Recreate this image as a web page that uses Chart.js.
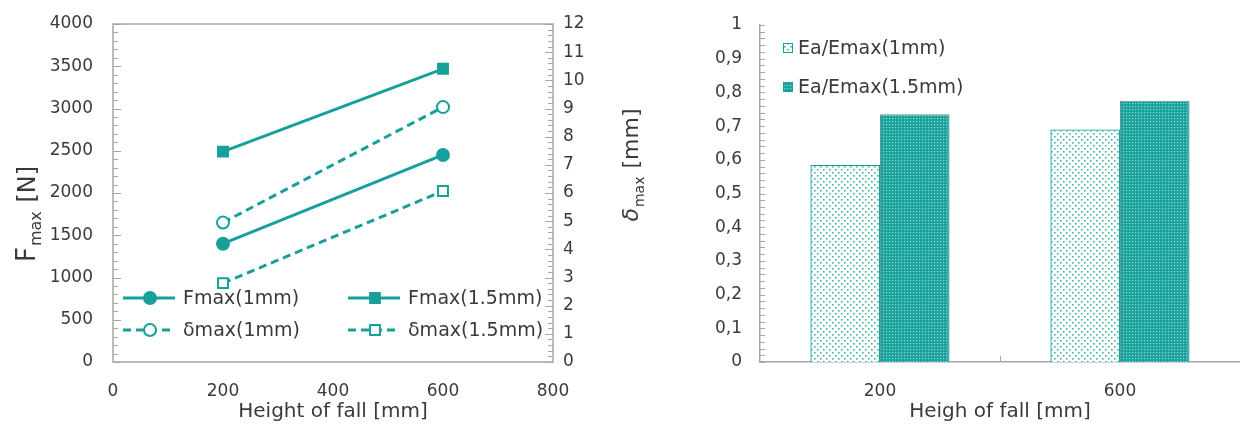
<!DOCTYPE html>
<html lang="en">
<head>
<meta charset="UTF-8">
<title>Fmax / delta max / Ea/Emax</title>
<script src="https://cdn.jsdelivr.net/npm/chart.js"></script>
<style>
    body { margin: 0; background: #fff; }
    #wrap { position: relative; width: 1240px; height: 428px; }
    #lineWrap { position: absolute; left: 0; top: 0; width: 660px; height: 428px; }
    #barWrap { position: absolute; left: 660px; top: 0; width: 580px; height: 428px; }
</style>
</head>
<body>
<div id="wrap">
    <div id="lineWrap"><canvas id="lineChart"></canvas></div>
    <div id="barWrap"><canvas id="barChart"></canvas></div>
</div>
<script>
    // data
    var heights = [200, 600];
    var fmax1 = [1400, 2450];
    var fmax15 = [2490, 3470];
    var dmax1 = [4.95, 9.05];
    var dmax15 = [2.8, 6.07];

    var barLabels = ['200', '600'];
    var ea1 = [0.585, 0.69];
    var ea15 = [0.735, 0.775];

    var TEAL = '#17a09a';
    var AXIS = '#a6a6a6';
    var FONT = 'DejaVu Sans';
    var TXT = '#3a3a3a';

    Chart.defaults.font.family = FONT;
    Chart.defaults.font.size = 17;
    Chart.defaults.color = TXT;
    Chart.defaults.animation = false;

    function pts(xs, ys) {
        return xs.map(function (x, i) { return { x: x, y: ys[i] }; });
    }

    // patterns for the bars
    function dotPattern(bg, dot, size, offs, d) {
        var c = document.createElement('canvas');
        c.width = size; c.height = size;
        var g = c.getContext('2d');
        g.fillStyle = bg;
        g.fillRect(0, 0, size, size);
        g.fillStyle = dot;
        offs.forEach(function (o) { g.fillRect(o[0], o[1], d, d); });
        return g.createPattern(c, 'repeat');
    }
    var lightPat = dotPattern('#ffffff', '#3db2ac', 6, [[1, 1], [4, 4]], 1.6);
    var darkPat = dotPattern('#1aa39d', '#8fd6d2', 3, [[1, 1]], 1.2);

    // fixed axis size, no extra padding from the tick labels
    function fixW(w) {
        return function (s) { s.width = w; s.paddingTop = 0; s.paddingBottom = 0; };
    }

    // inner tick marks, a box and the y titles, all from the chart's scales
    var decor = {
        id: 'decor',
        afterDraw: function (chart, args, o) {
            var ctx = chart.ctx, a = chart.chartArea;
            ctx.save();
            ctx.strokeStyle = AXIS;
            ctx.lineWidth = 1;
            (o.ticks || []).forEach(function (t) {
                var sc = chart.scales[t.axis];
                for (var v = sc.min; v <= sc.max + 1e-9; v += t.step) {
                    var vv = Math.round(v / t.step) * t.step;
                    var big = t.major && Math.abs(vv / t.major - Math.round(vv / t.major)) < 1e-6;
                    var len = big ? t.len + 3 : t.len;
                    var y = Math.round(sc.getPixelForValue(vv)) + 0.5;
                    ctx.beginPath();
                    if (t.side === 'left') { ctx.moveTo(a.left, y); ctx.lineTo(a.left + len, y); }
                    else { ctx.moveTo(a.right, y); ctx.lineTo(a.right - len, y); }
                    ctx.stroke();
                }
            });
            if (o.box) {
                ctx.lineWidth = 1.5;
                ctx.strokeRect(a.left, a.top, a.right - a.left, a.bottom - a.top);
            }
            (o.titles || []).forEach(function (t) {
                ctx.save();
                ctx.translate(t.x, t.y);
                ctx.rotate(-Math.PI / 2);
                ctx.fillStyle = TXT;
                ctx.textBaseline = 'alphabetic';
                var big = (t.italic ? 'italic ' : '') + t.size + 'px ' + FONT;
                var small = Math.round(t.size * 0.62) + 'px ' + FONT;
                var rest = t.restSize + 'px ' + FONT;
                ctx.font = big;
                var w1 = ctx.measureText(t.main).width;
                ctx.font = small;
                var w2 = ctx.measureText(t.sub).width;
                ctx.font = rest;
                var w3 = ctx.measureText(t.rest).width;
                var x = -(w1 + w2 + w3) / 2;
                ctx.font = big;
                ctx.fillText(t.main, x, 0);
                ctx.font = small;
                ctx.fillText(t.sub, x + w1 + 1, 6);
                ctx.font = rest;
                ctx.fillText(t.rest, x + w1 + w2 + 2, 0);
                ctx.restore();
            });
            if (o.midTick) {
                var xs = chart.scales.x;
                var mx = Math.round((xs.getPixelForValue(0) + xs.getPixelForValue(1)) / 2) + 0.5;
                ctx.beginPath();
                ctx.moveTo(mx, a.bottom);
                ctx.lineTo(mx, a.bottom - 6);
                ctx.stroke();
            }
            ctx.restore();
        }
    };

    // legend drawn inside the plot
    var innerLegend = {
        id: 'innerLegend',
        afterDraw: function (chart, args, o) {
            var ctx = chart.ctx;
            ctx.save();
            ctx.font = o.size + 'px ' + FONT;
            ctx.textBaseline = 'middle';
            chart.data.datasets.forEach(function (ds, i) {
                var p = o.pos[i];
                if (o.kind === 'line') {
                    ctx.strokeStyle = ds.borderColor;
                    ctx.lineWidth = ds.borderWidth;
                    ctx.setLineDash(ds.borderDash || []);
                    ctx.beginPath();
                    ctx.moveTo(p[0] - 27, p[1]);
                    ctx.lineTo(p[0] + 25, p[1]);
                    ctx.stroke();
                    ctx.setLineDash([]);
                    ctx.fillStyle = ds.pointBackgroundColor;
                    ctx.lineWidth = ds.pointBorderWidth;
                    ctx.beginPath();
                    if (ds.pointStyle === 'rect') {
                        var s = ds.pointRadius * 1.4;
                        ctx.rect(p[0] - s / 2, p[1] - s / 2, s, s);
                    } else {
                        ctx.arc(p[0], p[1], ds.pointRadius, 0, Math.PI * 2);
                    }
                    ctx.fill();
                    ctx.stroke();
                    ctx.fillStyle = TXT;
                    ctx.fillText(ds.label, p[0] + 33, p[1] + 1);
                } else {
                    ctx.fillStyle = ds.backgroundColor;
                    ctx.fillRect(p[0], p[1] - 5, 10, 10);
                    ctx.strokeStyle = TEAL;
                    ctx.lineWidth = 1;
                    ctx.strokeRect(p[0] + 0.5, p[1] - 4.5, 9, 9);
                    ctx.fillStyle = TXT;
                    ctx.fillText(ds.label, p[0] + 15, p[1] + 1);
                }
            });
            ctx.restore();
        }
    };

    function lineDs(label, data, axis, dashed, style) {
        return {
            label: label,
            data: data,
            yAxisID: axis,
            borderColor: TEAL,
            borderWidth: 3,
            borderDash: dashed ? [8, 5] : [],
            pointStyle: style,
            pointRadius: style === 'rect' ? 7 : 6,
            pointBorderWidth: 2,
            pointBorderColor: TEAL,
            pointBackgroundColor: dashed ? '#ffffff' : TEAL,
            fill: false
        };
    }

    function plain(v) { return String(v); }

    new Chart(document.getElementById('lineChart'), {
        type: 'line',
        data: {
            datasets: [
                lineDs('Fmax(1mm)', pts(heights, fmax1), 'y', false, 'circle'),
                lineDs('Fmax(1.5mm)', pts(heights, fmax15), 'y', false, 'rect'),
                lineDs('\u03b4max(1mm)', pts(heights, dmax1), 'y2', true, 'circle'),
                lineDs('\u03b4max(1.5mm)', pts(heights, dmax15), 'y2', true, 'rect')
            ]
        },
        options: {
            responsive: true,
            maintainAspectRatio: false,
            layout: { padding: { top: 24, left: 0, right: 0, bottom: 0 } },
            scales: {
                x: {
                    type: 'linear', min: 0, max: 800,
                    afterFit: function (s) { s.height = 66; },
                    grid: { display: false, drawTicks: false },
                    border: { display: false },
                    ticks: { stepSize: 200, padding: 19, callback: plain },
                    title: { display: true, text: 'Height of fall [mm]', font: { size: 20 }, padding: { top: 0 } }
                },
                y: {
                    position: 'left', min: 0, max: 4000,
                    afterFit: fixW(113),
                    grid: { display: false, drawTicks: false },
                    border: { display: false },
                    ticks: { stepSize: 500, padding: 20, callback: plain }
                },
                y2: {
                    position: 'right', min: 0, max: 12,
                    afterFit: fixW(107),
                    grid: { display: false, drawTicks: false },
                    border: { display: false },
                    ticks: { stepSize: 1, padding: 10 }
                }
            },
            plugins: {
                legend: { display: false },
                tooltip: { enabled: false },
                decor: {
                    box: true,
                    ticks: [
                        { axis: 'y', step: 100, major: 500, side: 'left', len: 5 },
                        { axis: 'y2', step: 0.2, major: 1, side: 'right', len: 5 }
                    ],
                    titles: [
                        { x: 35, y: 215, main: 'F', sub: 'max', rest: ' [N]', size: 26, restSize: 24 },
                        { x: 638, y: 166, main: '\u03b4', sub: 'max', rest: ' [mm]', size: 22, restSize: 22, italic: true }
                    ]
                },
                innerLegend: {
                    kind: 'line', size: 19,
                    pos: [[150, 298], [375, 298], [150, 330], [375, 330]]
                }
            }
        },
        plugins: [decor, innerLegend]
    });

    new Chart(document.getElementById('barChart'), {
        type: 'bar',
        data: {
            labels: barLabels,
            datasets: [
                {
                    label: 'Ea/Emax(1mm)', data: ea1,
                    backgroundColor: lightPat, borderColor: TEAL, borderWidth: 1.3
                },
                {
                    label: 'Ea/Emax(1.5mm)', data: ea15,
                    backgroundColor: darkPat, borderColor: '#5f9692', borderWidth: 1
                }
            ]
        },
        options: {
            responsive: true,
            maintainAspectRatio: false,
            layout: { padding: { top: 25, left: 0, right: 0, bottom: 0 } },
            datasets: { bar: { barPercentage: 1, categoryPercentage: 0.58 } },
            scales: {
                x: {
                    afterFit: function (s) { s.height = 66; },
                    grid: { display: false, drawTicks: false },
                    border: { display: true, color: AXIS, width: 1.5 },
                    ticks: { padding: 19 },
                    title: { display: true, text: 'Heigh of fall [mm]', font: { size: 20 }, padding: { top: 0 } }
                },
                y: {
                    min: 0, max: 1,
                    afterFit: fixW(100),
                    grid: { display: false, drawTicks: false },
                    border: { display: true, color: AXIS, width: 1.5 },
                    ticks: {
                        stepSize: 0.1, padding: 18,
                        callback: function (v) {
                            var r = Math.round(v * 10) / 10;
                            return (r === 0 || r === 1) ? String(r) : r.toFixed(1).replace('.', ',');
                        }
                    }
                }
            },
            plugins: {
                legend: { display: false },
                tooltip: { enabled: false },
                decor: {
                    box: false,
                    midTick: true,
                    ticks: [{ axis: 'y', step: 0.02, side: 'left', len: 5 }]
                },
                innerLegend: {
                    kind: 'bar', size: 19,
                    pos: [[123, 48], [123, 87]]
                }
            }
        },
        plugins: [decor, innerLegend]
    });
</script>
</body>
</html>
